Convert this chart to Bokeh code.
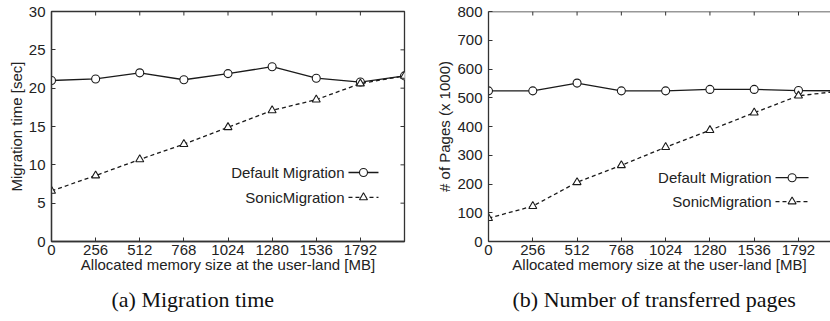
from bokeh.plotting import figure
from bokeh.layouts import row
from bokeh.models import FixedTicker, Range1d, Label, Span, Title
from bokeh.embed import file_html
from bokeh.resources import INLINE

# ---- data ----
mem_mb = [0, 256, 512, 768, 1024, 1280, 1536, 1792, 2048]
x_tick_labels = [0, 256, 512, 768, 1024, 1280, 1536, 1792]
time_default = [21.0, 21.2, 22.0, 21.1, 21.9, 22.8, 21.3, 20.8, 21.6]
time_sonic = [6.6, 8.6, 10.7, 12.7, 14.9, 17.1, 18.5, 20.6, 21.6]
pages_default = [524, 524, 551, 524, 524, 529, 529, 525, 524]
pages_sonic = [81, 123, 206, 265, 328, 387, 448, 507, 524]
time_ticks = [0, 5, 10, 15, 20, 25, 30]
pages_ticks = [0, 100, 200, 300, 400, 500, 600, 700, 800]
series_names = ["Default Migration", "SonicMigration"]
captions = ["(a) Migration time", "(b) Number of transferred pages"]
x_label = "Allocated memory size at the user-land [MB]"
y_labels = ["Migration time [sec]", "# of Pages (x 1000)"]

FONT = "Liberation Sans"
SERIF = "Liberation Serif"
TXT = "#222222"
LINE = "#1a1a1a"
AX = "#333333"
FS = "15px"

FIG_W, FIG_H = 415, 321
TOP, BOTTOM = 11, 80
TICK_PX = 4


def style_axis(ax):
    ax.major_tick_in = TICK_PX
    ax.major_tick_out = 0
    ax.minor_tick_in = 0
    ax.minor_tick_out = 0
    ax.axis_line_color = AX
    ax.axis_line_width = 1.3
    ax.major_tick_line_color = AX
    ax.major_tick_line_width = 1.0
    ax.major_label_text_font = FONT
    ax.major_label_text_font_size = FS
    ax.major_label_text_color = TXT
    ax.axis_label_text_font = FONT
    ax.axis_label_text_font_size = FS
    ax.axis_label_text_font_style = "normal"
    ax.axis_label_text_color = TXT


def make_panel(y_a, y_b, y_ticks, y_end, x_end, ylab, left_border, right_border,
               boxed, legend_spec, caption, caption_offset):
    p = figure(width=FIG_W, height=FIG_H, output_backend="svg", toolbar_location=None,
               x_range=Range1d(0, x_end), y_range=Range1d(0, y_end),
               min_border_left=left_border, min_border_right=right_border,
               min_border_top=TOP, min_border_bottom=BOTTOM,
               x_axis_label=x_label, y_axis_label=ylab)
    p.grid.visible = False
    p.background_fill_color = "white"
    p.border_fill_color = "white"
    if boxed:
        p.outline_line_color = AX
        p.outline_line_width = 1.3
        p.outline_line_alpha = 1.0
    else:
        p.outline_line_color = None
        p.add_layout(Span(location=y_end, dimension="width", line_color=AX,
                          line_width=1.3))

    p.xaxis.ticker = FixedTicker(ticks=x_tick_labels)
    p.yaxis.ticker = FixedTicker(ticks=y_ticks)
    for ax in p.xaxis:
        style_axis(ax)
        ax.major_label_standoff = 3
        ax.axis_label_standoff = -2
    for ax in p.yaxis:
        style_axis(ax)
        ax.major_label_standoff = 6
        ax.axis_label_standoff = 1

    # mirrored inward ticks on the top (and right) edge
    frame_w = FIG_W - left_border - right_border
    frame_h = FIG_H - TOP - BOTTOM
    dy = TICK_PX * y_end / frame_h
    dx = TICK_PX * x_end / frame_w
    p.segment(x0=x_tick_labels, y0=[y_end] * len(x_tick_labels),
              x1=x_tick_labels, y1=[y_end - dy] * len(x_tick_labels),
              line_color=AX, line_width=1.0)
    if boxed:
        p.segment(x0=[x_end] * len(y_ticks), y0=y_ticks,
                  x1=[x_end - dx] * len(y_ticks), y1=y_ticks,
                  line_color=AX, line_width=1.0)

    # series
    p.line(mem_mb, y_a, line_color=LINE, line_width=1.3)
    p.scatter(mem_mb, y_a, marker="circle", size=8, fill_color="white",
              line_color=LINE, line_width=1.1)
    p.line(mem_mb, y_b, line_color=LINE, line_width=1.3, line_dash="4 3")
    p.scatter(mem_mb, y_b, marker="triangle", size=8, fill_color="white",
              line_color=LINE, line_width=1.1)

    # legend (label left, sample right, as in the original)
    tx, lx0, lx1, mx, ya, yb = legend_spec
    for name, yy in zip(series_names, (ya, yb)):
        p.add_layout(Label(x=tx, y=yy, text=name, text_align="right",
                           text_baseline="middle", text_font=FONT,
                           text_font_size=FS, text_color=TXT))
    p.line([lx0, lx1], [ya, ya], line_color=LINE, line_width=1.3)
    p.scatter([mx], [ya], marker="circle", size=8, fill_color="white",
              line_color=LINE, line_width=1.1)
    p.line([lx0, lx1], [yb, yb], line_color=LINE, line_width=1.3, line_dash="4 3")
    p.scatter([mx], [yb], marker="triangle", size=8, fill_color="white",
              line_color=LINE, line_width=1.1)

    # caption below the plot
    cap = Title(text=caption, align="left", offset=caption_offset, standoff=18,
                text_font=SERIF, text_font_size="22px", text_font_style="normal",
                text_color="#111111")
    p.add_layout(cap, "below")
    return p


p1 = make_panel(time_default, time_sonic, time_ticks, 30, 2048, y_labels[0],
                51, 11, True, (1700, 1723, 1897, 1810, 9.0, 5.75),
                captions[0], 60)
p2 = make_panel(pages_default, pages_sonic, pages_ticks, 800, 1977, y_labels[1],
                73, 0, False, (1636, 1659, 1850, 1755, 222, 139),
                captions[1], 24)

layout = row(p1, p2)
open("out.html", "w").write(file_html(layout, INLINE))
